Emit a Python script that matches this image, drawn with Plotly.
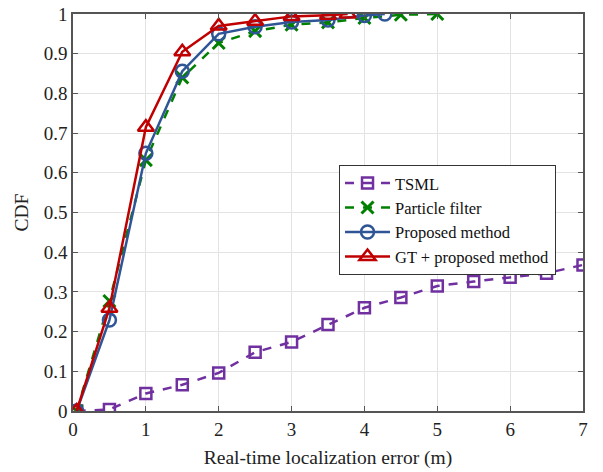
import plotly.graph_objects as go

x_tsml = [0.05, 0.5, 1, 1.5, 2, 2.5, 3, 3.5, 4, 4.5, 5, 5.5, 6, 6.5, 7]
y_tsml = [0.0, 0.004, 0.044, 0.066, 0.096, 0.148, 0.174, 0.218, 0.26, 0.286, 0.315, 0.326, 0.337, 0.347, 0.368]

x_pf = [0.05, 0.5, 1, 1.5, 2, 2.5, 3, 3.5, 4, 4.5, 5]
y_pf = [0.0, 0.277, 0.632, 0.84, 0.927, 0.957, 0.973, 0.979, 0.99, 0.998, 1.0]

x_pm = [0.05, 0.5, 1, 1.5, 2, 2.5, 3, 3.5, 4, 4.28]
y_pm = [0.0, 0.229, 0.649, 0.856, 0.95, 0.968, 0.98, 0.985, 0.996, 1.0]

x_gt = [0.05, 0.5, 1, 1.5, 2, 2.5, 3, 3.5, 3.77]
y_gt = [0.0, 0.259, 0.715, 0.905, 0.97, 0.982, 0.994, 0.997, 1.0]

x_ticks = [0, 1, 2, 3, 4, 5, 6, 7]
y_ticks = [0, 0.1, 0.2, 0.3, 0.4, 0.5, 0.6, 0.7, 0.8, 0.9, 1]
y_labels = ["0", "0.1", "0.2", "0.3", "0.4", "0.5", "0.6", "0.7", "0.8", "0.9", "1"]

FONT = "Liberation Serif"

fig = go.Figure()
fig.add_trace(go.Scatter(
    x=x_tsml, y=y_tsml, name="TSML", mode="lines+markers",
    line=dict(color="#7030A0", width=2.5, dash="dash"),
    marker=dict(symbol="square-open", size=11, color="#7030A0", line=dict(width=2.5, color="#7030A0"))))
fig.add_trace(go.Scatter(
    x=x_pf, y=y_pf, name="Particle filter", mode="lines+markers",
    line=dict(color="#008000", width=2.5, dash="dash"),
    marker=dict(symbol="x-thin-open", size=12, color="#008000", line=dict(width=3, color="#008000"))))
fig.add_trace(go.Scatter(
    x=x_pm, y=y_pm, name="Proposed method", mode="lines+markers",
    line=dict(color="#2F5597", width=2.5),
    marker=dict(symbol="circle-open", size=13, color="#2F5597", line=dict(width=2.5, color="#2F5597"))))
fig.add_trace(go.Scatter(
    x=x_gt, y=y_gt, name="GT + proposed method", mode="lines+markers",
    line=dict(color="#C00000", width=2.5),
    marker=dict(symbol="triangle-up-open", size=14, color="#C00000", line=dict(width=2.5, color="#C00000"))))

axis_common = dict(
    showgrid=True, gridcolor="#E3E3E3", gridwidth=1,
    showline=True, linecolor="#555555", linewidth=1.5, mirror="ticks",
    ticks="inside", ticklen=5, tickcolor="#555555", tickwidth=1,
    zeroline=False, automargin=False,
    tickfont=dict(family=FONT, size=19, color="#222222"),
)

fig.update_layout(
    width=603, height=472,
    margin=dict(l=73, r=20, t=14, b=61),
    paper_bgcolor="white", plot_bgcolor="white",
    font=dict(family=FONT, size=19, color="#222222"),
    xaxis=dict(range=[0, 7], tickvals=x_ticks,
               title=dict(text="Real-time localization error (m)", font=dict(family=FONT, size=19.5), standoff=12),
               **axis_common),
    yaxis=dict(range=[0, 1], tickvals=y_ticks, ticktext=y_labels,
               title=dict(text="CDF", font=dict(family=FONT, size=19.5), standoff=10),
               **axis_common),
    legend=dict(x=0.5216, y=0.62, xanchor="left", yanchor="top",
                bgcolor="white", bordercolor="#333333", borderwidth=1,
                font=dict(family=FONT, size=16.5, color="#111111"),
                itemwidth=45, tracegroupgap=0),
    showlegend=True,
)

fig.write_html("out.html")
